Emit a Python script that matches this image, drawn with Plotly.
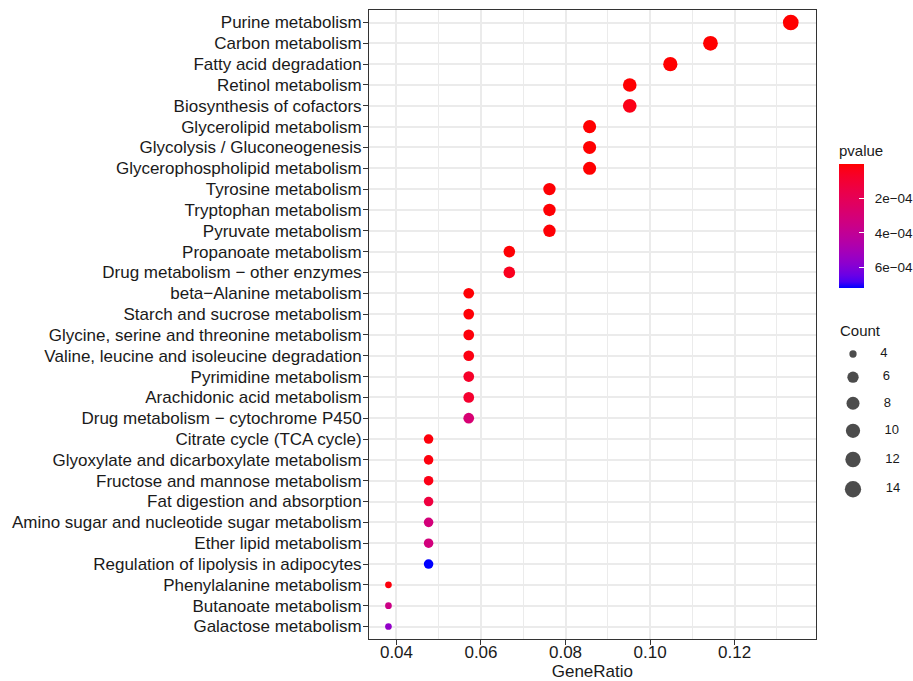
import numpy as np
import plotly.graph_objects as go

MINUS = "\u2212"

terms = [
    "Purine metabolism", "Carbon metabolism", "Fatty acid degradation",
    "Retinol metabolism", "Biosynthesis of cofactors", "Glycerolipid metabolism",
    "Glycolysis / Gluconeogenesis", "Glycerophospholipid metabolism",
    "Tyrosine metabolism", "Tryptophan metabolism", "Pyruvate metabolism",
    "Propanoate metabolism", "Drug metabolism " + MINUS + " other enzymes",
    "beta" + MINUS + "Alanine metabolism", "Starch and sucrose metabolism",
    "Glycine, serine and threonine metabolism",
    "Valine, leucine and isoleucine degradation", "Pyrimidine metabolism",
    "Arachidonic acid metabolism", "Drug metabolism " + MINUS + " cytochrome P450",
    "Citrate cycle (TCA cycle)", "Glyoxylate and dicarboxylate metabolism",
    "Fructose and mannose metabolism", "Fat digestion and absorption",
    "Amino sugar and nucleotide sugar metabolism", "Ether lipid metabolism",
    "Regulation of lipolysis in adipocytes", "Phenylalanine metabolism",
    "Butanoate metabolism", "Galactose metabolism",
]
counts = [14, 12, 11, 10, 10, 9, 9, 9, 8, 8, 8, 7, 7, 6, 6, 6, 6, 6, 6, 6,
          5, 5, 5, 5, 5, 5, 5, 4, 4, 4]
gene_ratio = [0.1333, 0.1143, 0.1048, 0.0952, 0.0952, 0.0857, 0.0857, 0.0857,
              0.0762, 0.0762, 0.0762, 0.0667, 0.0667, 0.0571, 0.0571, 0.0571,
              0.0571, 0.0571, 0.0571, 0.0571, 0.0476, 0.0476, 0.0476, 0.0476,
              0.0476, 0.0476, 0.0476, 0.0381, 0.0381, 0.0381]
pvalues = [2.0e-9, 3.0e-8, 1.0e-7, 2.0e-6, 3.2e-5, 1.0e-6, 1.2e-6, 1.5e-6,
           5.0e-6, 6.0e-6, 7.0e-6, 6.0e-6, 4.5e-5, 5.0e-6, 8.0e-6, 1.5e-5,
           2.5e-5, 7.0e-5, 8.5e-5, 2.9e-4, 1.5e-5, 2.0e-5, 3.0e-5, 1.3e-4,
           3.1e-4, 3.2e-4, 7.2e-4, 1.6e-5, 3.5e-4, 5.6e-4]

count_legend = [4, 6, 8, 10, 12, 14]
p_ticks = [2e-4, 4e-4, 6e-4]
p_ticklabels = ["2e" + MINUS + "04", "4e" + MINUS + "04", "6e" + MINUS + "04"]

FONT = "Liberation Sans, Arial, sans-serif"
TXT = "#1A1A1A"


# ---- colour ramp red -> blue interpolated in CIELAB (like ggplot2) ----
def _srgb_to_lin(c):
    c = np.asarray(c, float)
    return np.where(c <= 0.04045, c / 12.92, ((c + 0.055) / 1.055) ** 2.4)


def _lin_to_srgb(c):
    c = np.clip(c, 0, 1)
    return np.where(c <= 0.0031308, 12.92 * c, 1.055 * c ** (1 / 2.4) - 0.055)


M = np.array([[0.4124, 0.3576, 0.1805], [0.2126, 0.7152, 0.0722],
              [0.0193, 0.1192, 0.9505]])
WHITE = np.array([0.95047, 1.0, 1.08883])


def rgb_to_lab(rgb):
    xyz = M @ _srgb_to_lin(np.array(rgb) / 255.0) / WHITE
    f = np.where(xyz > 0.008856, np.cbrt(xyz), 7.787 * xyz + 16 / 116)
    return np.array([116 * f[1] - 16, 500 * (f[0] - f[1]), 200 * (f[1] - f[2])])


def lab_to_rgb(lab):
    L, a, b = lab
    fy = (L + 16) / 116
    fx = fy + a / 500
    fz = fy - b / 200
    f = np.array([fx, fy, fz])
    xyz = np.where(f ** 3 > 0.008856, f ** 3, (f - 16 / 116) / 7.787) * WHITE
    rgb = _lin_to_srgb(np.linalg.solve(M, xyz))
    return "rgb(%d,%d,%d)" % tuple(np.round(rgb * 255).astype(int))


lab_red = rgb_to_lab([255, 0, 0])
lab_blue = rgb_to_lab([0, 0, 255])
n_stops = 21
colorscale = []
for i in range(n_stops):
    s = i / (n_stops - 1)          # s=0 -> high p (blue), s=1 -> low p (red)
    t = 1 - s
    colorscale.append([s, lab_to_rgb(lab_red + (lab_blue - lab_red) * t)])


def diam(c):
    return 6.7 + 9.0 * np.sqrt((np.asarray(c, float) - 4) / 10.0)


neg_p = [-p for p in pvalues]

W, H = 913, 681
ML, MR, MT, MB = 369, 0, 10, 42
PW, PH = W - ML - MR, H - MT - MB
panel_right = 815.7


def px_x(x):
    return (x - ML) / PW


def px_y(y):
    return (H - MB - y) / PH


CB_LEFT, CB_W = 839, 25
CB_TITLE = 24
CB_TOP_BAR, CB_LEN_BAR = 166, 122

fig = go.Figure()

fig.add_trace(go.Scatter(
    x=gene_ratio, y=terms, mode="markers",
    marker=dict(size=diam(counts), color=neg_p, colorscale=colorscale,
                cmin=-max(pvalues), cmax=-min(pvalues), line=dict(width=0),
                opacity=1,
                colorbar=dict(
                    title=dict(text="pvalue", side="top",
                               font=dict(size=15, family=FONT, color=TXT)),
                    thickness=CB_W, thicknessmode="pixels",
                    len=CB_LEN_BAR + CB_TITLE, lenmode="pixels",
                    x=px_x(CB_LEFT), xanchor="left", xpad=0,
                    y=px_y(CB_TOP_BAR - CB_TITLE), yanchor="top", ypad=0,
                    outlinewidth=0,
                    tickvals=[-v for v in p_ticks],
                    ticktext=["  " + t for t in p_ticklabels],
                    ticks="inside", ticklen=5, tickcolor="white", tickwidth=1,
                    tickfont=dict(size=13.5, family=FONT, color=TXT),
                )),
    showlegend=False, hoverinfo="x+y",
))

# white tick marks on the left edge of the colour bar (ggplot style)
pmin, pmax = min(pvalues), max(pvalues)
for v in p_ticks:
    yy = CB_TOP_BAR + (v - pmin) / (pmax - pmin) * CB_LEN_BAR
    fig.add_shape(type="line", xref="paper", yref="paper",
                  x0=px_x(CB_LEFT), x1=px_x(CB_LEFT + 5),
                  y0=px_y(yy), y1=px_y(yy),
                  line=dict(color="white", width=1))

# ---- size legend drawn on a small auxiliary axis ----
leg_d = diam(count_legend)
leg_y = [354.0]
for i in range(1, len(count_legend)):
    leg_y.append(leg_y[-1] + (leg_d[i - 1] + leg_d[i]) / 2 + 14.5)
LEG_TOP, LEG_BOT = 318, 505
fig.add_trace(go.Scatter(
    x=[853] * len(count_legend), y=leg_y, mode="markers+text",
    marker=dict(size=leg_d + 0.6, color="black", line=dict(width=0)),
    text=["      " + str(c) for c in count_legend], textposition="middle right",
    textfont=dict(size=13, family=FONT, color=TXT),
    xaxis="x2", yaxis="y2", showlegend=False, hoverinfo="skip", cliponaxis=False,
))

fig.add_annotation(text="Count", x=px_x(838), y=px_y(330), xref="paper", yref="paper",
                   xanchor="left", yanchor="middle", showarrow=False,
                   font=dict(size=15, family=FONT, color=TXT))

grid = "#EBEBEB"
fig.update_layout(
    width=W, height=H,
    margin=dict(l=ML, r=MR, t=MT, b=MB, autoexpand=False),
    paper_bgcolor="white", plot_bgcolor="white",
    font=dict(family=FONT, color=TXT),
    xaxis=dict(
        domain=[0, px_x(panel_right)], range=[0.0335, 0.1392],
        tickvals=[0.04, 0.06, 0.08, 0.10, 0.12],
        ticktext=["0.04", "0.06", "0.08", "0.10", "0.12"],
        ticks="outside", ticklen=5, tickcolor="#333333", tickwidth=1,
        ticklabelstandoff=-7,
        tickfont=dict(size=17, family=FONT, color=TXT),
        showgrid=True, gridcolor=grid, gridwidth=1.5,
        minor=dict(dtick=0.01, tick0=0.03, showgrid=True, gridcolor=grid,
                   gridwidth=0.8, ticks=""),
        showline=True, linecolor="#333333", linewidth=1, mirror=True,
        zeroline=False,
        title=dict(text="GeneRatio", font=dict(size=17, family=FONT, color=TXT),
                   standoff=9),
    ),
    yaxis=dict(
        type="category", categoryorder="array", categoryarray=terms,
        range=[len(terms) - 1 + 0.6, -0.6],
        ticks="outside", ticklen=5, tickcolor="#333333", tickwidth=1,
        ticklabelstandoff=-2,
        tickfont=dict(size=17, family=FONT, color=TXT),
        showgrid=True, gridcolor=grid, gridwidth=1.5,
        showline=True, linecolor="#333333", linewidth=1, mirror=True,
        zeroline=False,
    ),
    xaxis2=dict(domain=[px_x(830), 1], range=[830, 913], visible=False,
                fixedrange=True),
    yaxis2=dict(domain=[px_y(LEG_BOT), px_y(LEG_TOP)], range=[LEG_BOT, LEG_TOP],
                visible=False, fixedrange=True, anchor="x2"),
)
fig.update_layout(xaxis2_anchor="y2")

fig.write_html("out.html")
